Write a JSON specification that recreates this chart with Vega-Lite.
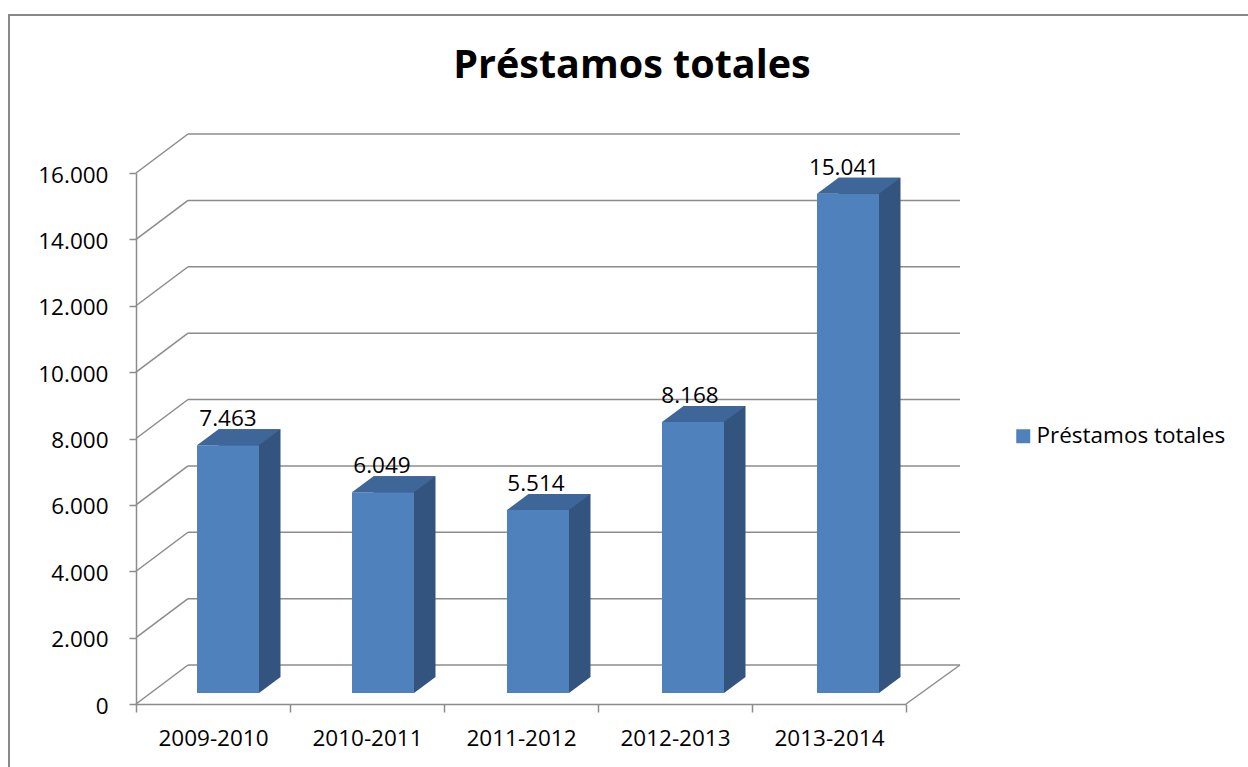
{
  "$schema": "https://vega.github.io/schema/vega-lite/v6.json",
  "autosize": {"type": "none"},
  "padding": {"left": 9, "top": 15, "right": -3, "bottom": -3},
  "width": 1242,
  "height": 755,
  "background": "white",
  "title": {
    "text": "Préstamos totales",
    "anchor": "middle",
    "frame": "group",
    "font": "Open Sans",
    "fontSize": 39.5,
    "fontWeight": "bold",
    "color": "#000000",
    "baseline": "alphabetic",
    "offset": 0,
    "dx": 2,
    "dy": 102
  },
  "datasets": {
    "bars": [
      {"periodo": "2009-2010", "prestamos": 7463},
      {"periodo": "2010-2011", "prestamos": 6049},
      {"periodo": "2011-2012", "prestamos": 5514},
      {"periodo": "2012-2013", "prestamos": 8168},
      {"periodo": "2013-2014", "prestamos": 15041}
    ],
    "grid": [
      {"v": 0}, {"v": 2000}, {"v": 4000}, {"v": 6000}, {"v": 8000},
      {"v": 10000}, {"v": 12000}, {"v": 14000}, {"v": 16000}
    ],
    "corner": [{"v": 0}]
  },
  "layer": [
    {
      "data": {"name": "grid"},
      "mark": {"type": "rule", "color": "#8c8c8c", "strokeWidth": 1.5},
      "encoding": {
        "y": {"field": "v", "type": "quantitative", "scale": {"domain": [0, 16000], "range": [650, 119], "nice": false, "zero": false}, "axis": null},
        "x": {"datum": 0, "type": "quantitative", "scale": {"domain": [0, 1], "range": [179, 951], "nice": false, "zero": false}, "axis": null},
        "x2": {"datum": 1}
      }
    },
    {
      "data": {"name": "grid"},
      "mark": {"type": "point", "shape": "M 0 0 L -52 39", "size": 4, "filled": false, "color": "#8c8c8c", "strokeWidth": 1.5, "opacity": 1},
      "encoding": {
        "y": {"field": "v", "type": "quantitative", "scale": {"domain": [0, 16000], "range": [650, 119], "nice": false, "zero": false}, "axis": null},
        "x": {"datum": 0, "type": "quantitative", "scale": {"domain": [0, 1], "range": [179, 951], "nice": false, "zero": false}, "axis": null}
      }
    },
    {
      "data": {"name": "corner"},
      "mark": {"type": "point", "shape": "M 0 0 L -54 39", "size": 4, "filled": false, "color": "#8c8c8c", "strokeWidth": 1.5, "opacity": 1},
      "encoding": {
        "y": {"field": "v", "type": "quantitative", "scale": {"domain": [0, 16000], "range": [650, 119], "nice": false, "zero": false}, "axis": null},
        "x": {"datum": 1, "type": "quantitative", "scale": {"domain": [0, 1], "range": [179, 951], "nice": false, "zero": false}, "axis": null}
      }
    },
    {
      "data": {"name": "bars"},
      "mark": {"type": "bar", "color": "#33547E"},
      "encoding": {
        "x": {"field": "periodo", "type": "nominal", "sort": null, "scale": {"type": "band", "range": [163, 938], "paddingInner": 0.6, "paddingOuter": 0.3}, "axis": null},
        "y": {"field": "prestamos", "type": "quantitative", "scale": {"domain": [0, 16000], "range": [662, 131], "nice": false, "zero": true}, "axis": null}
      }
    },
    {
      "data": {"name": "bars"},
      "mark": {"type": "bar"},
      "encoding": {
        "x": {"field": "periodo", "type": "nominal", "sort": null, "scale": {"type": "band", "range": [141.5, 916.5], "paddingInner": 0.6, "paddingOuter": 0.3}, "axis": null},
        "y": {"field": "prestamos", "type": "quantitative", "scale": {"domain": [0, 16000], "range": [678, 147], "nice": false, "zero": true}, "axis": null},
        "color": {
          "datum": "Préstamos totales",
          "scale": {"range": ["#4F81BD"]},
          "legend": {
            "title": null,
            "orient": "none",
            "legendX": 1003,
            "legendY": 410,
            "padding": 0,
            "symbolType": "square",
            "symbolSize": 196,
            "symbolStrokeWidth": 0,
            "labelFont": "Open Sans",
            "labelFontSize": 22.5,
            "labelColor": "#000000",
            "labelOffset": 2,
            "labelLimit": 400
          }
        }
      }
    },
    {
      "data": {"name": "bars"},
      "mark": {"type": "point", "shape": "M -31 0 L 31 0 L 52.5 -16 L -9.5 -16 Z", "size": 4, "filled": true, "color": "#3E6699", "opacity": 1, "strokeWidth": 0},
      "encoding": {
        "x": {"field": "periodo", "type": "nominal", "sort": null, "scale": {"type": "band", "range": [141.5, 916.5], "paddingInner": 0.6, "paddingOuter": 0.3}, "axis": null},
        "y": {"field": "prestamos", "type": "quantitative", "scale": {"domain": [0, 16000], "range": [678, 147], "nice": false, "zero": true}, "axis": null}
      }
    },
    {
      "data": {"name": "bars"},
      "mark": {"type": "point", "shape": "M 31 0 L 31 -16 L 52.5 -16 Z", "size": 4, "filled": true, "color": "#33547E", "opacity": 1, "strokeWidth": 0},
      "encoding": {
        "x": {"field": "periodo", "type": "nominal", "sort": null, "scale": {"type": "band", "range": [141.5, 916.5], "paddingInner": 0.6, "paddingOuter": 0.3}, "axis": null},
        "y": {"datum": 0, "type": "quantitative", "scale": {"domain": [0, 16000], "range": [678, 147], "nice": false, "zero": true}, "axis": null}
      }
    },
    {
      "data": {"name": "bars"},
      "mark": {"type": "text", "dx": 15, "dy": -30, "baseline": "alphabetic", "align": "center", "font": "Open Sans", "fontSize": 22.5, "color": "#000000"},
      "encoding": {
        "x": {
          "field": "periodo", "type": "nominal", "sort": null,
          "scale": {"type": "band", "range": [127, 897], "paddingInner": 0, "paddingOuter": 0},
          "axis": {
            "title": null, "orient": "bottom", "offset": -66, "labelAngle": 0,
            "domainColor": "#8c8c8c", "domainWidth": 1.5, "tickColor": "#8c8c8c", "tickWidth": 1.5,
            "tickBand": "extent", "tickSize": 8, "labelPadding": 15,
            "labelFont": "Open Sans", "labelFontSize": 22.5, "labelColor": "#000000", "grid": false
          }
        },
        "y": {
          "field": "prestamos", "type": "quantitative",
          "scale": {"domain": [0, 16000], "range": [689, 158], "nice": false, "zero": true},
          "axis": {
            "title": null, "orient": "left", "offset": -127,
            "values": [0, 2000, 4000, 6000, 8000, 10000, 12000, 14000, 16000],
            "format": ",.0f",
            "domainColor": "#8c8c8c", "domainWidth": 1.5, "tickColor": "#8c8c8c", "tickWidth": 1.5,
            "tickSize": 7, "labelPadding": 21, "labelOffset": 2,
            "labelFont": "Open Sans", "labelFontSize": 22.5, "labelColor": "#000000", "grid": false
          }
        },
        "text": {"field": "prestamos", "type": "quantitative", "format": ",.0f"}
      }
    }
  ],
  "resolve": {"scale": {"x": "independent", "y": "independent", "color": "independent"}},
  "config": {
    "locale": {"number": {"decimal": ",", "thousands": ".", "grouping": [3], "currency": ["", " €"]}},
    "view": {"stroke": "#898989", "strokeWidth": 2},
    "font": "Open Sans"
  }
}
